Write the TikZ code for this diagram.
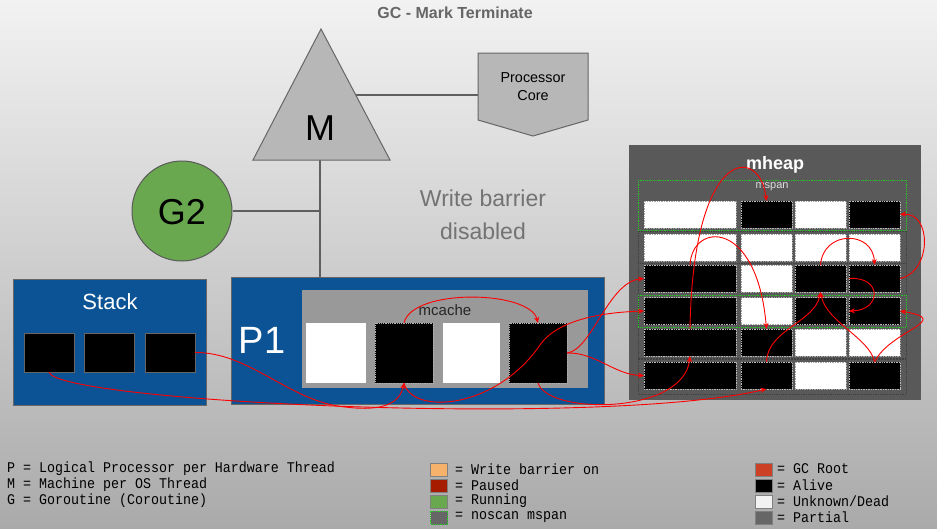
\documentclass[tikz,border=0pt]{standalone}
\usepackage{fontspec}
\setmainfont{Liberation Sans}
\newfontfamily\monof[FakeStretch=0.9]{Liberation Mono}
\usetikzlibrary{arrows.meta,calc}
\definecolor{bgtop}{HTML}{F2F2F2}
\definecolor{bgbot}{HTML}{AAAAAA}
\definecolor{gblue}{HTML}{0B5394}
\definecolor{ggreen}{HTML}{6AA84F}
\definecolor{gorange}{HTML}{F6B26B}
\definecolor{gpaused}{HTML}{A61C00}
\definecolor{groot}{HTML}{CC4125}
\definecolor{gdark}{HTML}{595959}
\definecolor{gmid}{HTML}{666666}
\definecolor{gtri}{HTML}{B7B7B7}
\definecolor{gcache}{HTML}{999999}
\definecolor{gline}{HTML}{5F5F5F}
\definecolor{dotgreen}{HTML}{22CC22}
\tikzset{
  fs/.style={font=\fontsize{#1}{#1}\selectfont},
  fsb/.style={font=\fontsize{#1}{#1}\selectfont\bfseries},
  conn/.style={draw=gline, line width=2.2pt},
  bluebox/.style={fill=gblue, draw=gmid, line width=0.8pt},
  sq/.style={fill=black, draw=gmid, line width=0.8pt, inner sep=0pt, outer sep=0pt, minimum width=50pt, minimum height=39pt},
  mcw/.style={fill=white, inner sep=0pt, outer sep=0pt, minimum height=60pt},
  mcb/.style={fill=black, draw=gray!60, densely dotted, line width=0.8pt, inner sep=0pt, outer sep=0pt, minimum height=60pt},
  wc/.style={fill=white, draw=gray!70, densely dotted, line width=0.7pt, inner sep=0pt, outer sep=0pt, minimum height=27pt},
  bc/.style={fill=black, draw=gray!55, densely dotted, line width=0.7pt, inner sep=0pt, outer sep=0pt, minimum height=27pt},
  redarr/.style={draw=red, line width=0.9pt, -{Stealth[length=6pt,width=5pt]}},
  legtext/.style={anchor=west, inner sep=0pt, font=\monof\fontsize{14.8}{15}\selectfont, text=black},
  swatch/.style={draw=gray, line width=0.8pt, inner sep=0pt, minimum width=17pt, minimum height=13.5pt},
}
\begin{document}
\begin{tikzpicture}[x=1pt,y=-1pt]
\useasboundingbox (0,0) rectangle (937,528);
\shade[top color=bgtop, bottom color=bgbot] (0,0) rectangle (937,528);

% title
\node[fsb=16, text=gmid] (title) at (455,13) {GC - Mark Terminate};

% connectors M / G2 / P1
\coordinate (mbase) at (320,160);
\coordinate (ptop) at (320,277);
\coordinate (gjoin) at (320,211);
\coordinate (mright) at (355,95);
\coordinate (pcleft) at (478,95);
\draw[conn] (mbase) -- (ptop);
\draw[conn] (mright) -- (pcleft);

% triangle M
\draw[fill=gtri, draw=gmid, line width=1pt] (321,29) -- (390,160) -- (253,160) -- cycle;
\node[fs=36] (M) at (320,128) {M};

% processor core
\draw[fill=gtri, draw=gmid, line width=1pt] (478,53) -- (588,53) -- (588,120) -- (533,136) -- (478,120) -- cycle;
\node[fs=14.4, align=center, font=\fontsize{14.4}{18}\selectfont] (pc) at (533,87) {Processor\\Core};

% G2
\node[circle, fill=ggreen, draw=gdark, line width=1pt, minimum size=100pt, inner sep=0pt] (g2) at (182,211) {};
\node[fs=36] (g2t) at (182,212) {G2};
\draw[conn] (g2.east) -- (gjoin);

% write barrier text
\node[align=center, text=gray!90!black, font=\fontsize{23}{33}\selectfont] (wb) at (483,215) {Write barrier\\disabled};

% Stack
\draw[bluebox] (13,279) rectangle (206,405);
\node[fs=22, text=white] (stackt) at (110,302) {Stack};
\node[sq] (s1) at (49,352.5) {};
\node[sq] (s2) at (109.5,352.5) {};
\node[sq] (s3) at (170,352.5) {};

% P1
\draw[bluebox] (231,277) rectangle (604,404);
\node[fs=38, text=white] (p1t) at (262,340) {P1};
\fill[gcache] (302,290) rectangle (588,388);
\node[fs=15, text=black!85] (mct) at (445,310) {mcache};
\node[mcw, minimum width=60pt] (m1) at (336,353) {};
\node[mcb, minimum width=58pt] (m2) at (404,353) {};
\node[mcw, minimum width=57pt] (m3) at (471.5,353) {};
\node[mcb, minimum width=58pt] (m4) at (538,353) {};

% mheap
\fill[gdark] (629,145) rectangle (921,400);
\node[fsb=18, text=white] (mh) at (775,165) {mheap};
\node[fs=11, text=gray!25] (ms) at (772,187) {mspan};
\draw[black!75, densely dotted, line width=0.8pt] (638,231) rectangle (906,394);
\draw[black!75, densely dotted, line width=0.8pt] (638,263) -- (906,263);
\draw[black!75, densely dotted, line width=2pt] (638,359) -- (906,359);
\draw[dotgreen, densely dotted, line width=0.8pt] (638,180) rectangle (906,230);
\draw[dotgreen, densely dotted, line width=0.8pt] (638,295) rectangle (906,327);

\foreach \r/\y/\ca/\cb/\cc/\cd in {1/214.5/wc/bc/wc/bc, 2/247.5/wc/wc/wc/wc, 3/278.5/bc/wc/bc/bc, 4/311/bc/wc/bc/bc, 5/342.5/bc/bc/wc/wc, 6/375.5/bc/bc/wc/bc}{
  \node[\ca, minimum width=92pt] (c\r1) at (690,\y) {};
  \node[\cb, minimum width=51pt] (c\r2) at (766.5,\y) {};
  \node[\cc, minimum width=51pt] (c\r3) at (820.5,\y) {};
  \node[\cd, minimum width=51pt] (c\r4) at (874.5,\y) {};
}

% red arrows inside mheap
\draw[redarr] (c51.north) .. controls (693,145) and (760,145) .. (c12.north);
\draw[redarr] (c31.north) .. controls (692,222) and (757,218) .. (c52.north);
\draw[redarr] (c33.north) .. controls (823,230) and (873,230) .. (c34.north);
\draw[redarr] (c34.east) .. controls (932,272) and (932,212) .. (c14.east);
\draw[redarr] (c34.west) .. controls (882,276) and (882,310) .. (c44.west);
\draw[redarr] (c62.north) .. controls (767,330) and (815,322) .. (c33.south);
\draw[redarr] (c64.north) .. controls (870,338) and (826,322) .. (c33.south);
\draw[redarr] (c64.north) .. controls (890,330) and (955,320) .. (c44.east);

% mcache internal
\draw[redarr] (m2.north) .. controls (412,288) and (530,290) .. (m4.north);

% arrows from P1 / Stack to mheap
\draw[redarr] (m4.east) .. controls (592,350) and (608,282) .. (c31.west);
\draw[redarr] (m2.south) .. controls (412,415) and (495,410) .. (540,345) .. controls (560,316) and (615,312) .. (c41.west);
\draw[redarr] (m4.east) .. controls (595,352) and (615,375) .. (c61.west);
\draw[redarr] (m4.south) .. controls (548,415) and (684,415) .. (c51.south);
\draw[redarr] (s1.south) .. controls (55,402) and (600,428) .. (c62.south);
\draw[redarr] (s3.east) .. controls (250,352) and (290,402) .. (345,407) .. controls (385,412) and (400,402) .. (m2.south);

% legend
\node[legtext] (l1) at (7,469) {P = Logical Processor per Hardware Thread};
\node[legtext] (l2) at (7,485) {M = Machine per OS Thread};
\node[legtext] (l3) at (7,501) {G = Goroutine (Coroutine)};

\node[swatch, fill=gorange] (sw1) at (439,470) {};
\node[swatch, fill=gpaused] (sw2) at (439,486) {};
\node[swatch, fill=ggreen] (sw3) at (439,502) {};
\node[swatch, fill=gmid, draw=dotgreen, densely dotted] (sw4) at (439,518) {};
\node[legtext] (t1) at (455,469) {= Write barrier on};
\node[legtext] (t2) at (455,485) {= Paused};
\node[legtext] (t3) at (455,501) {= Running};
\node[legtext] (t4) at (455,517) {= noscan mspan};

\node[swatch, fill=groot] (sw5) at (764,470) {};
\node[swatch, fill=black] (sw6) at (764,486) {};
\node[swatch, fill=white!95!black] (sw7) at (764,502) {};
\node[swatch, fill=gmid] (sw8) at (764,518) {};
\node[legtext] (t5) at (777,469) {= GC Root};
\node[legtext] (t6) at (777,485) {= Alive};
\node[legtext] (t7) at (777,501) {= Unknown/Dead};
\node[legtext] (t8) at (777,517) {= Partial};
\end{tikzpicture}
\end{document}
